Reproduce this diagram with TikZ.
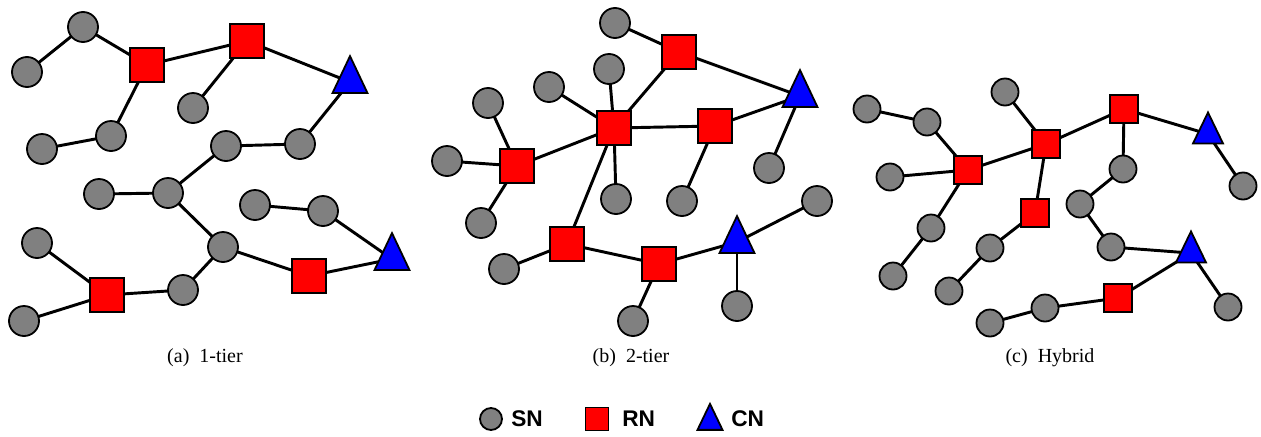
\documentclass[tikz,border=0pt]{standalone}
\usepackage{fontspec}
\setmainfont{Liberation Serif}
\newfontfamily\legfont{Liberation Sans}
\usetikzlibrary{shapes.geometric,backgrounds}
\definecolor{snfill}{HTML}{808080}
\definecolor{rnfill}{HTML}{FF0000}
\definecolor{cnfill}{HTML}{0000FF}
\begin{document}
\begin{tikzpicture}[x=0.75pt,y=-0.75pt,
  base/.style={draw=black, line width=1.35pt, inner sep=0pt, outer sep=0pt},
  sn/.style={base, circle, fill=snfill, minimum size=22.5pt},
  rn/.style={base, rectangle, fill=rnfill, minimum size=25.5pt},
  cn/.style={base, isosceles triangle, isosceles triangle stretches, shape border rotate=90, fill=cnfill, minimum width=26.25pt, minimum height=27.75pt, yshift=-4.5pt},
  snc/.style={sn, minimum size=20.25pt},
  rnc/.style={rn, minimum size=21pt},
  cnc/.style={base, isosceles triangle, isosceles triangle stretches, shape border rotate=90, fill=cnfill, minimum width=22.5pt, minimum height=23.25pt, yshift=-3.8pt},
  link/.style={line width=2.2pt, draw=black},
  captext/.style={font=\fontsize{15}{18}\selectfont, inner sep=0pt},
  legtext/.style={font=\legfont\bfseries\fontsize{17}{20}\selectfont, inner sep=0pt}
]
\useasboundingbox (0,0) rectangle (1261,436);

% ---------- (a) 1-tier ----------
\node[sn] (a1) at (83,27) {};
\node[sn] (a2) at (27,72) {};
\node[rn] (a3) at (147,65) {};
\node[rn] (a4) at (247,41) {};
\node[cn] (a5) at (350,76) {};
\node[sn] (a6) at (193,108) {};
\node[sn] (a7) at (111,136) {};
\node[sn] (a8) at (42,149) {};
\node[sn] (a9) at (226,146) {};
\node[sn] (a10) at (300,144) {};
\node[sn] (a11) at (99,194) {};
\node[sn] (a12) at (168,193) {};
\node[sn] (a13) at (255,205) {};
\node[sn] (a14) at (323,211) {};
\node[cn] (a15) at (392,253) {};
\node[sn] (a16) at (37,243) {};
\node[sn] (a17) at (223,247) {};
\node[rn] (a18) at (309,276) {};
\node[rn] (a19) at (107,295) {};
\node[sn] (a20) at (183,290) {};
\node[sn] (a21) at (24,321) {};

% ---------- (b) 2-tier ----------
\node[sn] (b1) at (615,23) {};
\node[rn] (b2) at (679,52) {};
\node[sn] (b3) at (609,69) {};
\node[sn] (b4) at (549,87) {};
\node[sn] (b5) at (488,103) {};
\node[cn] (b6) at (800,90) {};
\node[rn] (b7) at (614,128) {};
\node[rn] (b8) at (715,126) {};
\node[sn] (b9) at (447,161) {};
\node[rn] (b10) at (517,166) {};
\node[sn] (b11) at (769,168) {};
\node[sn] (b12) at (616,199) {};
\node[sn] (b13) at (682,201) {};
\node[sn] (b14) at (817,201) {};
\node[sn] (b15) at (481,223) {};
\node[rn] (b16) at (567,244) {};
\node[cn] (b17) at (737,236) {};
\node[rn] (b18) at (659,264) {};
\node[sn] (b19) at (504,269) {};
\node[sn] (b20) at (737,306) {};
\node[sn] (b21) at (633,321) {};

% ---------- (c) Hybrid ----------
\node[snc] (c1) at (1005,92) {};
\node[snc] (c2) at (867,109) {};
\node[rnc] (c3) at (1124,109) {};
\node[snc] (c4) at (927,122) {};
\node[cnc] (c5) at (1208,129) {};
\node[rnc] (c6) at (1046,144) {};
\node[snc] (c7) at (1123,169) {};
\node[rnc] (c8) at (968,170) {};
\node[snc] (c9) at (890,177) {};
\node[snc] (c10) at (1243,186) {};
\node[snc] (c11) at (1080,204) {};
\node[rnc] (c12) at (1035,213) {};
\node[snc] (c13) at (931,228) {};
\node[cnc] (c14) at (1191,248) {};
\node[snc] (c15) at (990,248) {};
\node[snc] (c16) at (1111,247) {};
\node[snc] (c17) at (893,276) {};
\node[snc] (c18) at (949,291) {};
\node[rnc] (c19) at (1118,298) {};
\node[snc] (c20) at (1045,308) {};
\node[snc] (c21) at (1228,307) {};
\node[snc] (c22) at (990,323) {};

\begin{scope}[on background layer]
\foreach \u/\v in {a2/a1,a1/a3,a3/a4,a4/a5,a4/a6,a3/a7,a7/a8,a5/a10,a10/a9,a9/a12,a11/a12,a12/a17,a17/a18,a18/a15,a15/a14,a14/a13,a17/a20,a20/a19,a19/a16,a19/a21,
  b1/b2,b2/b6,b2/b7,b4/b7,b3/b7,b7/b8,b8/b6,b6/b11,b8/b13,b7/b12,b7/b10,b5/b10,b9/b10,b10/b15,b7/b16,b16/b19,b16/b18,b18/b21,b18/b17,b17/b14,b17/b20,
  c2/c4,c4/c8,c9/c8,c8/c6,c8/c13,c13/c17,c1/c6,c6/c3,c6/c12,c12/c15,c15/c18,c3/c5,c5/c10,c3/c7,c7/c11,c11/c16,c16/c14,c14/c19,c14/c21,c19/c20,c20/c22}
  \draw[link] (\u.center) -- (\v.center);
\end{scope}

% ---------- captions ----------
\node[captext] (capa) at (205,358) {(a)\ \ 1-tier};
\node[captext] (capb) at (631,358) {(b)\ \ 2-tier};
\node[captext] (capc) at (1050,358) {(c)\ \ Hybrid};

% ---------- legend ----------
\node[sn, minimum size=16.5pt] (lsn) at (491,419) {};
\node[legtext, anchor=west] (tsn) at (511,419) {SN};
\node[rn, minimum size=17.25pt] (lrn) at (597,419) {};
\node[legtext, anchor=west] (trn) at (622,419) {RN};
\node[base, isosceles triangle, isosceles triangle stretches, shape border rotate=90, fill=cnfill, minimum width=18.75pt, minimum height=19.5pt, yshift=-3pt] (lcn) at (710,418) {};
\node[legtext, anchor=west] (tcn) at (731,419) {CN};
\end{tikzpicture}
\end{document}
